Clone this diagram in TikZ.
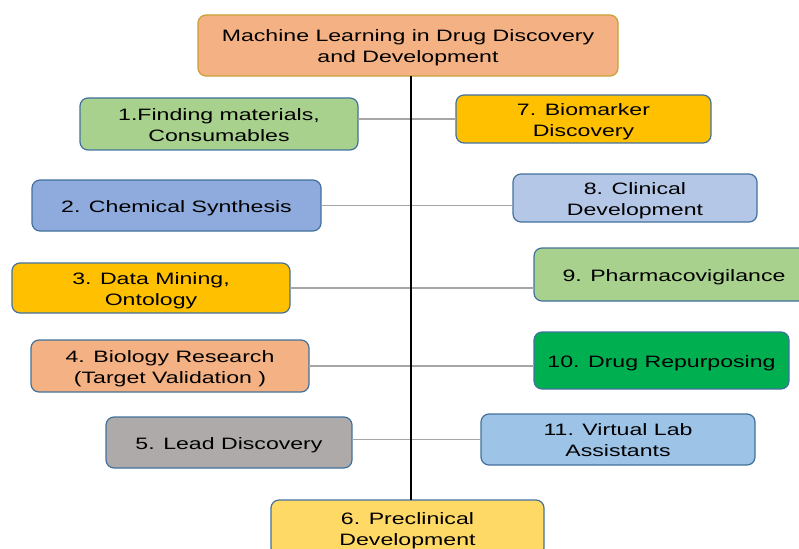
\documentclass[tikz,border=0pt]{standalone}
\usepackage{fontspec}
\setmainfont[FakeStretch=1.4]{Liberation Sans}
\definecolor{peach}{HTML}{F4B183}
\definecolor{leaf}{HTML}{A9D18E}
\definecolor{amber}{HTML}{FFC000}
\definecolor{cornflower}{HTML}{8FAADC}
\definecolor{paleblue}{HTML}{B4C7E7}
\definecolor{brightgreen}{HTML}{00B050}
\definecolor{stone}{HTML}{AEAAAA}
\definecolor{skyblue}{HTML}{9DC3E6}
\definecolor{butter}{HTML}{FFD966}
\definecolor{edgeblue}{HTML}{41719C}
\definecolor{edgegold}{HTML}{C9A035}
\definecolor{linkgrey}{HTML}{A6A6A6}
% centred, strutted lines, set a little below the box centre
\newcommand\stagetext[1]{\raisebox{-2.5pt}[\height][\depth]{\begin{tabular}{@{}c@{}}#1\end{tabular}}}
\tikzset{
  stage/.style={draw=edgeblue, line width=1.2pt, rounded corners=8pt,
    inner sep=2pt, outer sep=0pt, font=\fontsize{16.5}{21}\selectfont},
  link/.style={draw=linkgrey, line width=1.2pt},
  spine/.style={draw=black, line width=1.3pt}
}
\begin{document}
\begin{tikzpicture}[x=1pt,y=1pt]
\useasboundingbox (0,0) rectangle (799,-548);
\clip (0,0) rectangle (799,-548);

\node[stage, draw=edgegold, fill=peach, minimum width=420, minimum height=61]
  (top) at (408,-45.5) {\stagetext{Machine Learning in Drug Discovery\\and Development}};

% left column
\node[stage, fill=leaf, minimum width=278, minimum height=52]
  (n1) at (219,-124) {\stagetext{1.Finding materials,\\Consumables}};
\node[stage, fill=cornflower, minimum width=289, minimum height=51]
  (n2) at (176.5,-205.5) {\stagetext{2. Chemical Synthesis}};
\node[stage, fill=amber, minimum width=278, minimum height=50]
  (n3) at (151,-288) {\stagetext{3. Data Mining,\\Ontology}};
\node[stage, fill=peach, minimum width=278, minimum height=52]
  (n4) at (170,-366) {\stagetext{4. Biology Research\\(Target Validation )}};
\node[stage, fill=stone, minimum width=246, minimum height=51]
  (n5) at (229,-442.5) {\stagetext{5. Lead Discovery}};

% right column
\node[stage, fill=amber, minimum width=255, minimum height=48]
  (n7) at (583.5,-119) {\stagetext{7. Biomarker\\Discovery}};
\node[stage, fill=paleblue, minimum width=244, minimum height=48]
  (n8) at (635,-198) {\stagetext{8. Clinical\\Development}};
\node[stage, fill=leaf, minimum width=280, minimum height=53]
  (n9) at (674,-274.5) {\stagetext{9. Pharmacovigilance}};
\node[stage, fill=brightgreen, minimum width=255, minimum height=57]
  (n10) at (661.5,-360.5) {\stagetext{10. Drug Repurposing}};
\node[stage, fill=skyblue, minimum width=274, minimum height=51]
  (n11) at (618,-439.5) {\stagetext{11. Virtual Lab\\Assistants}};

% bottom
\node[stage, fill=butter, minimum width=273, minimum height=56]
  (n6) at (407.5,-528) {\stagetext{6. Preclinical\\Development}};

% horizontal branches
\draw[link] (n1.east |- n7.west) -- (n7.west);
\draw[link] (n2.east) -- (n8.west |- n2.east);
\draw[link] (n3.east) -- (n9.west |- n3.east);
\draw[link] (n4.east) -- (n10.west |- n4.east);
\draw[link] (n5.east |- n11.west) -- (n11.west);

% central spine
\coordinate (spinetop) at ([xshift=3pt]top.south);
\draw[spine] (spinetop) -- (spinetop |- n6.north);
\end{tikzpicture}
\end{document}
